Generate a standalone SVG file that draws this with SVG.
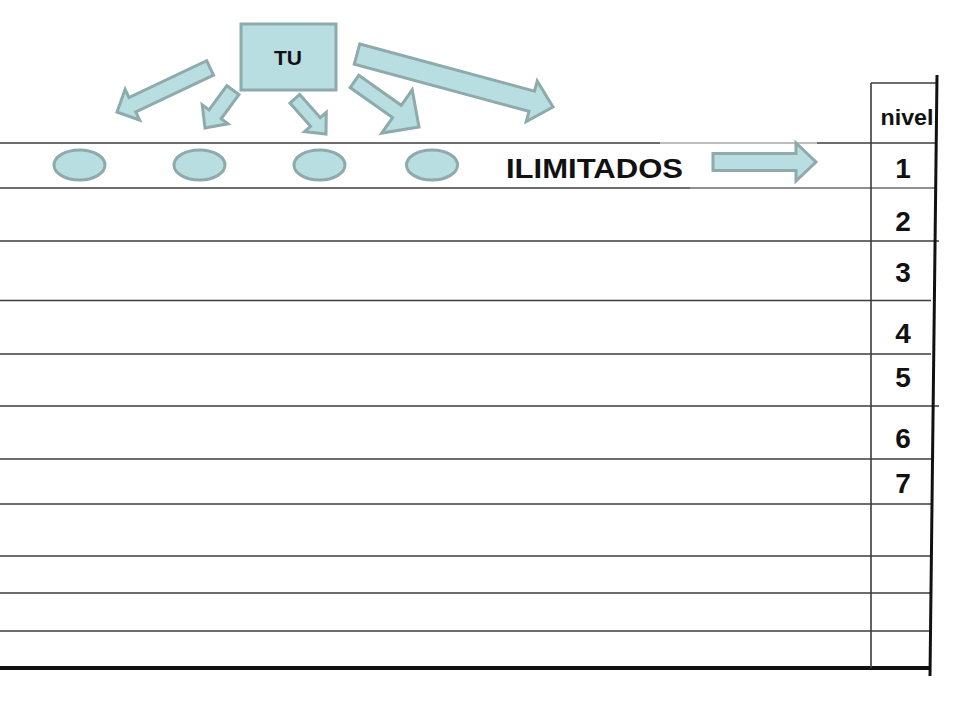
<svg xmlns="http://www.w3.org/2000/svg" width="960" height="720" viewBox="0 0 960 720">
  <style>
    .shape { fill: #b8dee2; stroke: #8eaaab; stroke-width: 3; stroke-linejoin: miter; }
    .row { stroke: #3c3c3c; stroke-width: 1.6; fill: none; }
    .light { stroke: #a8a8a8; stroke-width: 1.6; fill: none; }
    .mid { stroke: #6a6a6a; stroke-width: 1.6; fill: none; }
    .num { font-family: "Liberation Sans", Arial, sans-serif; font-weight: bold; font-size: 28px; fill: #111; text-anchor: middle; }
    .lbl { font-family: "Liberation Sans", Arial, sans-serif; font-weight: bold; fill: #111; }
  </style>
  <rect x="0" y="0" width="960" height="720" fill="#ffffff"/>

  <g id="table">
    <line class="row" x1="0" y1="143" x2="660" y2="143"/>
    <line class="light" x1="660" y1="143" x2="817" y2="143"/>
    <line class="row" x1="817" y1="143" x2="936" y2="143"/>
    <line class="row" x1="0" y1="188" x2="690" y2="188"/>
    <line class="mid" x1="690" y1="188" x2="936" y2="188"/>
    <line class="row" x1="0" y1="241" x2="939" y2="241"/>
    <line class="row" x1="0" y1="300.5" x2="931" y2="300.5"/>
    <line class="row" x1="0" y1="354" x2="931" y2="354"/>
    <line class="row" x1="0" y1="406" x2="939" y2="406"/>
    <line class="row" x1="0" y1="459" x2="931" y2="459"/>
    <line class="row" x1="0" y1="504" x2="931" y2="504"/>
    <line class="row" x1="0" y1="556" x2="931" y2="556"/>
    <line class="row" x1="0" y1="593" x2="931" y2="593"/>
    <line class="row" x1="0" y1="631" x2="931" y2="631"/>
    <line x1="0" y1="668" x2="931" y2="668" stroke="#111" stroke-width="4"/>
    <line class="row" x1="871" y1="83" x2="871" y2="668"/>
    <line class="row" x1="871" y1="83" x2="937" y2="83"/>
    <line x1="937" y1="75" x2="930" y2="676" stroke="#111" stroke-width="3"/>
    <text class="lbl" x="907" y="125" font-size="22" text-anchor="middle" textLength="53" lengthAdjust="spacingAndGlyphs">nivel</text>
    <text class="num" x="903" y="178">1</text>
    <text class="num" x="903" y="231">2</text>
    <text class="num" x="903" y="282">3</text>
    <text class="num" x="903" y="343">4</text>
    <text class="num" x="903" y="387">5</text>
    <text class="num" x="903" y="448">6</text>
    <text class="num" x="903" y="493">7</text>
  </g>

  <g id="tu">
    <rect class="shape" x="241" y="24" width="95" height="66"/>
    <text class="lbl" x="288" y="65" font-size="21" text-anchor="middle">TU</text>
  </g>

  <g id="ellipse1"><ellipse class="shape" cx="79.5" cy="165" rx="25.5" ry="15"/></g>
  <g id="ellipse2"><ellipse class="shape" cx="199.5" cy="165" rx="25.5" ry="15"/></g>
  <g id="ellipse3"><ellipse class="shape" cx="319.5" cy="165" rx="25.5" ry="15"/></g>
  <g id="ellipse4"><ellipse class="shape" cx="432" cy="165" rx="25.5" ry="15"/></g>

  <g id="ilimitados">
    <text class="lbl" x="506" y="178" font-size="28" textLength="177" lengthAdjust="spacingAndGlyphs">ILIMITADOS</text>
  </g>

  <g id="connectors">
    <polygon class="shape" transform="translate(117 112) rotate(154.7)" points="-103,-8 -17,-8 -17,-17 0,0 -17,17 -17,8 -103,8"/>
    <polygon class="shape" transform="translate(205 128) rotate(126.4)" points="-47,-7.5 -17,-7.5 -17,-16 0,0 -17,16 -17,7.5 -47,7.5"/>
    <polygon class="shape" transform="translate(326 134) rotate(48.5)" points="-47,-6.5 -16,-6.5 -16,-14.5 0,0 -16,14.5 -16,6.5 -47,6.5"/>
    <polygon class="shape" transform="translate(419 127) rotate(35.2)" points="-79,-7.5 -27,-7.5 -27,-26.5 0,0 -27,26.5 -27,7.5 -79,7.5"/>
    <polygon class="shape" transform="translate(553 107) rotate(15.1)" points="-203,-10.5 -22,-10.5 -22,-21 0,0 -22,21 -22,10.5 -203,10.5"/>
    <polygon class="shape" transform="translate(816 162)" points="-103,-8.5 -20,-8.5 -20,-19 0,0 -20,19 -20,8.5 -103,8.5"/>
  </g>
</svg>
